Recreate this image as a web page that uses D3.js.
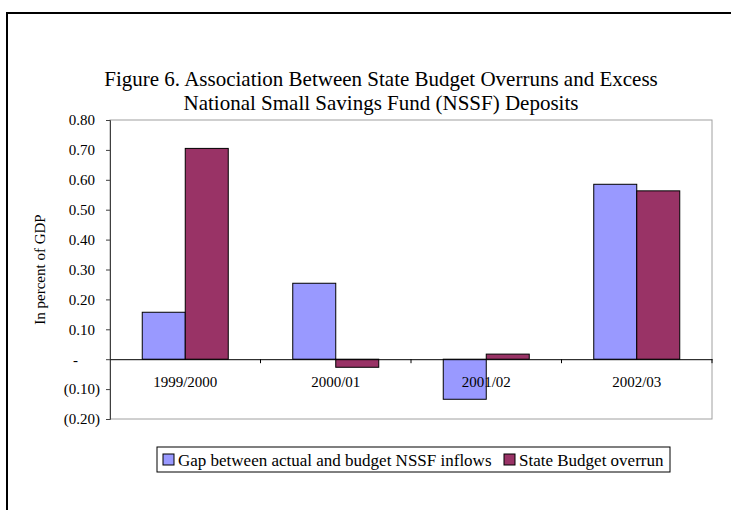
<!DOCTYPE html>
<html><head><meta charset="utf-8">
<script src="https://cdn.jsdelivr.net/npm/d3@7"></script>
<style>body{margin:0;background:#fff}svg{display:block}text{font-family:"Liberation Serif","Times New Roman",serif;fill:#000}</style>
</head><body>
<svg id="c" width="731" height="510"></svg>
<script>
const categories = ["1999/2000","2000/01","2001/02","2002/03"];
const seriesNames = ["Gap between actual and budget NSSF inflows","State Budget overrun"];
const gapValues = [0.157, 0.254, -0.134, 0.585];
const overrunValues = [0.705, -0.027, 0.017, 0.563];
const yTicks = [-0.2,-0.1,0,0.1,0.2,0.3,0.4,0.5,0.6,0.7,0.8];
const yTickLabels = ["(0.20)","(0.10)","-","0.10","0.20","0.30","0.40","0.50","0.60","0.70","0.80"];
const titleLines = ["Figure 6. Association Between State Budget Overruns and Excess","National Small Savings Fund (NSSF) Deposits"];
const yLabel = "In percent of GDP";
const colors = ["#9999ff","#993366"];

const svg = d3.select("#c");
svg.append("rect").attr("x",7).attr("y",13).attr("width",760).attr("height",540)
  .attr("fill","#fff").attr("stroke","#000").attr("stroke-width",2);

const L=110,R=712,T=120,B=419;
const x = d3.scaleBand().domain(categories).range([L,R]);
const y = d3.scaleLinear().domain([-0.2,0.8]).range([B,T]);
const bw = x.bandwidth()/3.5;

// title
svg.append("g").selectAll("text").data(titleLines).join("text")
  .attr("x",381).attr("y",(d,i)=>86+i*24).attr("text-anchor","middle")
  .style("font-size","21px").text(d=>d);

// plot area border
svg.append("rect").attr("x",L).attr("y",T).attr("width",R-L).attr("height",B-T)
  .attr("fill","none").attr("stroke","#a0a0a0").attr("stroke-width",1);

const data = [];
categories.forEach((c,i)=>{
  data.push({c,s:0,v:gapValues[i]});
  data.push({c,s:1,v:overrunValues[i]});
});
svg.append("g").selectAll("rect").data(data).join("rect")
  .attr("x",d=>x(d.c)+(x.bandwidth()-2*bw)/2+d.s*bw)
  .attr("width",bw)
  .attr("y",d=>Math.min(y(d.v),y(0)))
  .attr("height",d=>Math.abs(y(d.v)-y(0)))
  .attr("fill",d=>colors[d.s]).attr("stroke","#000").attr("stroke-width",1);

// y axis
const ya = svg.append("g").attr("transform",`translate(${L},0)`)
  .call(d3.axisLeft(y).tickValues(yTicks).tickSize(4).tickPadding(6)
    .tickFormat((d,i)=>yTickLabels[i]));
ya.select(".domain").attr("stroke","#404040");
ya.selectAll("line").attr("stroke","#404040");
ya.selectAll("text").style("font-size","15px").style("font-family","Liberation Serif")
  .attr("dx",(d,i)=>yTickLabels[i]==="-"?-22:(yTickLabels[i].startsWith("(")?0:-5));

// x axis at zero
const xa = svg.append("g").attr("transform",`translate(0,${y(0)})`)
  .call(d3.axisBottom(x).tickSize(0).tickPadding(0).tickFormat(""));
xa.select(".domain").attr("stroke","#000");
svg.append("g").selectAll("line").data(categories).join("line")
  .attr("x1",d=>x(d)+x.bandwidth()).attr("x2",d=>x(d)+x.bandwidth())
  .attr("y1",y(0)).attr("y2",y(0)+4).attr("stroke","#000");
svg.append("g").selectAll("text").data(categories).join("text")
  .attr("x",d=>x(d)+x.bandwidth()/2).attr("y",y(0)+28).attr("text-anchor","middle")
  .style("font-size","15px").text(d=>d);

// y label
svg.append("text").attr("transform",`translate(45,${(T+B)/2}) rotate(-90)`)
  .attr("text-anchor","middle").style("font-size","15px").text(yLabel);

// legend
const lg = svg.append("g");
lg.append("rect").attr("x",157).attr("y",447).attr("width",513).attr("height",25)
  .attr("fill","#fff").attr("stroke","#000").attr("stroke-width",1);
const lx=[163,504];
seriesNames.forEach((n,i)=>{
  lg.append("rect").attr("x",lx[i]).attr("y",454).attr("width",11).attr("height",11)
    .attr("fill",colors[i]).attr("stroke","#000");
  lg.append("text").attr("x",lx[i]+15).attr("y",466).style("font-size","17px").text(n);
});
</script>
</body></html>
